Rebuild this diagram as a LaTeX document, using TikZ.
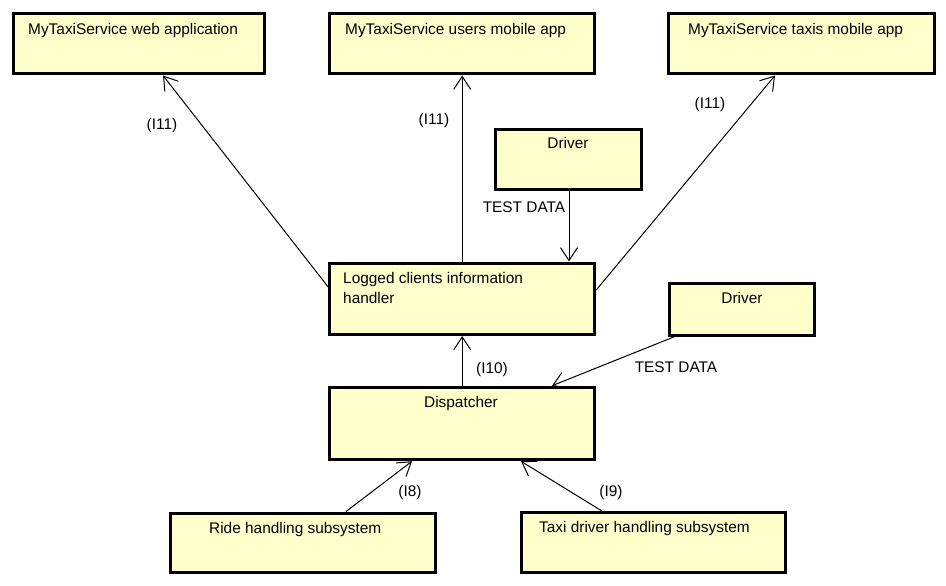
\documentclass[tikz,border=0pt]{standalone}
\usepackage{fontspec}
\setmainfont{Liberation Sans}
\usetikzlibrary{arrows.meta}
\definecolor{boxfill}{HTML}{FFFFCC}
\begin{document}
\begin{tikzpicture}[x=1pt,y=-1pt,
  box/.style={draw=black, fill=boxfill, line width=3pt, inner sep=0pt, rectangle},
  txt/.style={inner sep=0pt, font=\fontsize{15.4}{20}\selectfont},
  lbl/.style={inner sep=0pt, font=\fontsize{15.4}{20}\selectfont},
  arr/.style={draw=black, line width=1pt, -{Straight Barb[length=13pt,width=17pt]}}]
\useasboundingbox[fill=white] (0,0) rectangle (946,586);

% boxes
\node[box, minimum width=251pt, minimum height=60pt] (web) at (139,44) {};
\node[box, minimum width=264.5pt, minimum height=60pt] (users) at (462,44) {};
\node[box, minimum width=265.5pt, minimum height=60pt] (taxis) at (801.5,44) {};
\node[box, minimum width=146pt, minimum height=60pt] (drv1) at (568.5,159.5) {};
\node[box, minimum width=265pt, minimum height=71.5pt] (log) at (462.2,298.75) {};
\node[box, minimum width=145.7pt, minimum height=52pt] (drv2) at (741.9,309) {};
\node[box, minimum width=265pt, minimum height=72.5pt] (disp) at (462.2,423.5) {};
\node[box, minimum width=265.5pt, minimum height=59.3pt] (ride) at (303,542.7) {};
\node[box, minimum width=264.4pt, minimum height=59.5pt] (taxid) at (653.5,542.3) {};

% box texts
\node[txt, anchor=base west] (tweb) at (28,35) {MyTaxiService web application};
\node[txt, anchor=base west] (tusers) at (345,35) {MyTaxiService users mobile app};
\node[txt, anchor=base west] (ttaxis) at (688,35) {MyTaxiService taxis mobile app};
\node[txt, anchor=base] (tdrv1) at (568,148) {Driver};
\node[txt, anchor=base west] (tlog1) at (343,283) {Logged clients information};
\node[txt, anchor=base west] (tlog2) at (343,303) {handler};
\node[txt, anchor=base] (tdrv2) at (742,303) {Driver};
\node[txt, anchor=base] (tdisp) at (461,407) {Dispatcher};
\node[txt, anchor=base west] (tride) at (209,533) {Ride handling subsystem};
\node[txt, anchor=base west] (ttaxid) at (539,532) {Taxi driver handling subsystem};

% connectors
\draw[arr] (log.west |- 0,287) -- (163,0 |- web.south);
\draw[arr] (log.north) -- (log.north |- users.south);
\draw[arr] (log.east |- 0,290) -- (775,0 |- taxis.south);
\draw[arr] (569,0 |- drv1.south) -- (569,0 |- log.north);
\draw[arr] (disp.north) -- (disp.north |- log.south);
\draw[arr] (675,0 |- drv2.south) -- (552,0 |- disp.north);
\draw[arr] (346,0 |- ride.north) -- (412,0 |- disp.south);
\draw[arr] (602,0 |- taxid.north) -- (521,0 |- disp.south);

% connector labels
\node[lbl] (l1) at (162,126) {(I11)};
\node[lbl] (l2) at (434,121) {(I11)};
\node[lbl] (l3) at (710,105) {(I11)};
\node[lbl] (l4) at (524,207) {TEST DATA};
\node[lbl] (l5) at (492,370) {(I10)};
\node[lbl] (l6) at (676,367) {TEST DATA};
\node[lbl] (l7) at (410,493) {(I8)};
\node[lbl] (l8) at (611,493) {(I9)};
\end{tikzpicture}
\end{document}
